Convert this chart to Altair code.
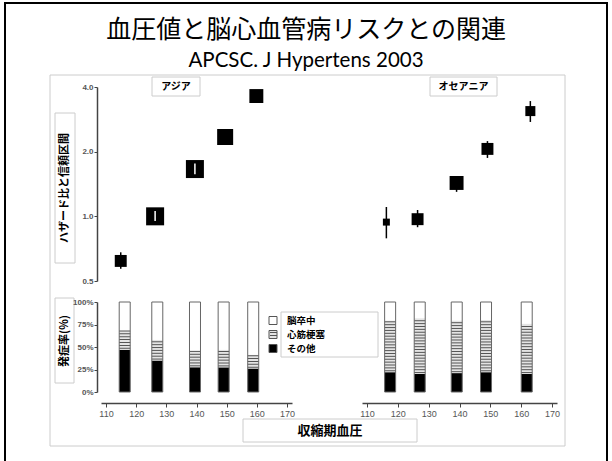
import altair as alt
import numpy as np
import pandas as pd

JP = "Noto Sans CJK JP"
LAT = "Liberation Sans"

regions = ["アジア", "オセアニア"]

# Mean systolic pressure of each group (mmHg)
sbp_asia = [116.2, 127.0, 139.5, 149.0, 158.8]
sbp_oce = [117.5, 127.1, 139.1, 148.6, 161.8]

# Hazard ratios with 95% confidence intervals
hr_asia = [0.62, 1.00, 1.66, 2.34, 3.63]
lo_asia = [0.57, 0.95, 1.57, 2.18, 3.40]
hi_asia = [0.68, 1.06, 1.76, 2.51, 3.87]
hr_oce = [0.94, 0.97, 1.43, 2.06, 3.09]
lo_oce = [0.79, 0.89, 1.30, 1.87, 2.75]
hi_oce = [1.105, 1.07, 1.54, 2.24, 3.44]

# Relative weight of each estimate (box area)
wt_asia = [0.44, 1.0, 1.0, 0.79, 0.6]
wt_oce = [0.15, 0.44, 0.6, 0.44, 0.31]

# Share of events by type (%)
outcomes = ["脳卒中", "心筋梗塞", "その他"]
stroke_asia = [32.0, 42.0, 54.0, 53.0, 58.5]
mi_asia = [21.0, 23.0, 18.5, 19.6, 15.5]
other_asia = [47.0, 35.0, 27.5, 27.4, 26.0]
stroke_oce = [20.5, 18.0, 20.5, 20.0, 24.0]
mi_oce = [57.5, 62.0, 58.5, 58.0, 56.0]
other_oce = [22.0, 20.0, 21.0, 22.0, 20.0]

x_ticks = [110, 120, 130, 140, 150, 160, 170]
hr_ticks = [0.5, 1.0, 2.0, 4.0]
pct_ticks = [0, 25, 50, 75, 100]

# ---- tables ----
forest_df = pd.concat([
    pd.DataFrame({"region": regions[0], "sbp": sbp_asia, "hr": hr_asia,
                  "lo": lo_asia, "hi": hi_asia, "wt": wt_asia}),
    pd.DataFrame({"region": regions[1], "sbp": sbp_oce, "hr": hr_oce,
                  "lo": lo_oce, "hi": hi_oce, "wt": wt_oce}),
], ignore_index=True)

seg_rows, stripe_rows, bar_rows = [], [], []
for reg, xs, st, mi, ot in [(regions[0], sbp_asia, stroke_asia, mi_asia, other_asia),
                            (regions[1], sbp_oce, stroke_oce, mi_oce, other_oce)]:
    for x, s, m, o in zip(xs, st, mi, ot):
        seg_rows.append({"region": reg, "sbp": x, "outcome": outcomes[2], "y0": 0, "y1": o})
        seg_rows.append({"region": reg, "sbp": x, "outcome": outcomes[1], "y0": o, "y1": o + m})
        seg_rows.append({"region": reg, "sbp": x, "outcome": outcomes[0], "y0": o + m, "y1": o + m + s})
        bar_rows.append({"region": reg, "sbp": x})
        # hatching lines inside the myocardial-infarction segment
        for yy in np.arange(o + 1.6, o + m, 3.2):
            stripe_rows.append({"region": reg, "sbp": x, "y": float(yy)})
seg_df = pd.DataFrame(seg_rows)
stripe_df = pd.DataFrame(stripe_rows)
bar_df = pd.DataFrame(bar_rows)

fill_scale = alt.Scale(domain=outcomes, range=["white", "#e4e4e4", "black"])
size_scale = alt.Scale(domain=[0, 1], range=[0, 324], zero=True)

axis_style = dict(labelFont=LAT, labelColor="#555", domainColor="#444", domainWidth=1.5,
                  tickColor="#444", grid=False, zindex=1)


def x_enc(xr, axis):
    return alt.X("sbp:Q", scale=alt.Scale(domain=[110, 170], range=xr, nice=False, zero=False),
                 axis=axis, title=None)


def forest_panel(reg, xr, show_axis):
    d = forest_df[forest_df.region == reg]
    yscale = alt.Scale(type="log", domain=[0.5, 4], range=[281, 87], nice=False)
    yaxis = alt.Axis(values=hr_ticks, format=".1f", orient="left", offset=-97,
                     labelFontSize=8, labelFontWeight="bold", tickSize=3, labelPadding=1,
                     **axis_style) if show_axis else None
    x = x_enc(xr, None)
    base = alt.Chart(d)
    ci = base.mark_rule(color="black", strokeWidth=1.5).encode(
        x=x, y=alt.Y("lo:Q", scale=yscale, axis=yaxis, title=None), y2="hi:Q")
    sq = base.mark_square(color="black", opacity=1).encode(
        x=x, y=alt.Y("hr:Q", scale=yscale, axis=yaxis, title=None),
        size=alt.Size("wt:Q", scale=size_scale, legend=None))
    # narrow intervals that sit inside their box are drawn in white over it
    inner = base.transform_filter("datum.hi / datum.lo < 1.125").mark_rule(
        color="white", strokeWidth=1.5).encode(
        x=x, y=alt.Y("lo:Q", scale=yscale, axis=yaxis, title=None), y2="hi:Q")
    return alt.layer(ci, sq, inner)


def bar_panel(reg, xr, show_yaxis):
    yscale = alt.Scale(domain=[0, 100], range=[392, 302], nice=False)
    yaxis = alt.Axis(values=pct_ticks, labelExpr="datum.value + '%'", orient="left", offset=-97,
                     labelFontSize=8, labelFontWeight="bold", tickSize=3, labelPadding=1,
                     **axis_style) if show_yaxis else None
    xaxis = alt.Axis(values=x_ticks, format="d", orient="bottom", offset=-58,
                     labelFontSize=9, tickSize=4, labelPadding=2, **axis_style)
    x = x_enc(xr, xaxis)
    segs = alt.Chart(seg_df[seg_df.region == reg]).mark_bar(size=11, strokeWidth=0).encode(
        x=x, y=alt.Y("y0:Q", scale=yscale, axis=yaxis, title=None), y2="y1:Q",
        fill=alt.Fill("outcome:N", scale=fill_scale, legend=None))
    stripes = alt.Chart(stripe_df[stripe_df.region == reg]).mark_tick(
        orient="horizontal", size=11, thickness=1, color="#555", opacity=1).encode(
        x=x, y=alt.Y("y:Q", scale=yscale, axis=yaxis, title=None))
    outline = alt.Chart(bar_df[bar_df.region == reg]).mark_bar(
        size=11, fillOpacity=0, stroke="#666", strokeWidth=1).encode(
        x=x, y=alt.Y(datum=0, scale=yscale, axis=yaxis, title=None), y2=alt.Y2(datum=100))
    return alt.layer(segs, stripes, outline)


one = pd.DataFrame({"k": [0]})


def box(x0, x1, y0, y1, stroke="#cccccc", sw=1, fill_opacity=1):
    return alt.Chart(one).mark_rect(fill="white", fillOpacity=fill_opacity, stroke=stroke,
                                    strokeWidth=sw).encode(
        x=alt.value(x0), x2=alt.value(x1), y=alt.value(y0), y2=alt.value(y1))


def label(txt, x, y, size, angle=0, weight="bold", font=JP, align="center", color="black"):
    return alt.Chart(one).mark_text(text=txt, fontSize=size, font=font, fontWeight=weight,
                                    angle=angle, align=align, baseline="middle",
                                    color=color).encode(x=alt.value(x), y=alt.value(y))


def swatch(x, y, fill):
    return alt.Chart(one).mark_square(size=64, fill=fill, stroke="#555", strokeWidth=1,
                                      opacity=1).encode(x=alt.value(x), y=alt.value(y))


def hline(x0, x1, y, color="#555"):
    return alt.Chart(one).mark_rule(color=color, strokeWidth=1).encode(
        x=alt.value(x0), x2=alt.value(x1), y=alt.value(y))


background = [
    box(5, 607, 3, 490, stroke="black", sw=2, fill_opacity=0),
    box(50, 565, 75, 446, fill_opacity=0),
]

panels = [
    forest_panel(regions[0], [101, 292], True),
    forest_panel(regions[1], [362, 557], False),
    bar_panel(regions[0], [101, 292], True),
    bar_panel(regions[1], [362, 557], False),
]

legend_y = [320.5, 334.5, 348.5]
legend_fill = ["white", "#e4e4e4", "black"]
legend = [box(281, 378, 312, 357)]
for name, yy, fc in zip(outcomes, legend_y, legend_fill):
    legend.append(swatch(273, yy, fc))
    legend.append(label(name, 287, yy, 9.5, align="left"))
legend += [hline(270, 277, legend_y[1] - 2), hline(270, 277, legend_y[1] + 1)]

annotations = [
    label("血圧値と脳心血管病リスクとの関連", 306, 30, 25, weight="normal"),
    label("APCSC. J Hypertens 2003", 306, 61, 20.5, weight="normal", font="Lato"),
    box(152, 200, 77, 96), label("アジア", 176, 86.5, 10),
    box(430, 497, 77, 96), label("オセアニア", 463.5, 86.5, 10),
    box(55, 75, 113, 263), label("ハザード比と信頼区間", 65, 188, 11, angle=270),
    box(55, 74, 298, 383), label("発症率(%)", 64.5, 341, 11, angle=270),
    box(243, 417, 419, 442), label("収縮期血圧", 330, 430.5, 13),
]

chart = alt.layer(*background, *panels, *legend, *annotations).resolve_scale(
    x="independent", y="independent"
).resolve_axis(
    x="independent", y="independent"
).properties(
    width=612, height=461, padding=0,
    autosize=alt.AutoSizeParams(type="none"),
    background="white",
).configure_view(stroke=None)

chart.save("out.html", embed_options={"renderer": "svg", "actions": False})
